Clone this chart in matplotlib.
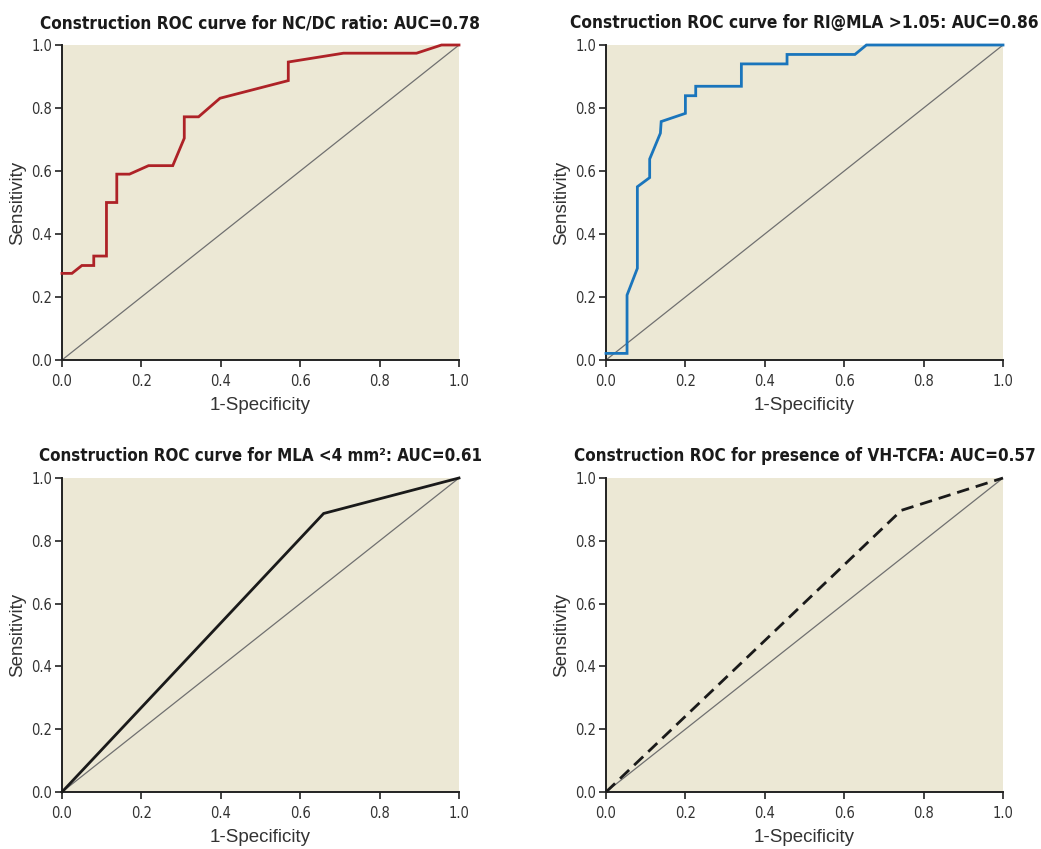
import numpy as np
import matplotlib
matplotlib.use("Agg")
import matplotlib.pyplot as plt
from matplotlib import font_manager as fm

# ---- datos ----
titulos = [
    "Construction ROC curve for NC/DC ratio: AUC=0.78",
    "Construction ROC curve for RI@MLA >1.05: AUC=0.86",
    "Construction ROC curve for MLA <4 mm²: AUC=0.61",
    "Construction ROC for presence of VH-TCFA: AUC=0.57",
]

fpr_ncdc = [0.0, 0.025, 0.050, 0.080, 0.080, 0.112, 0.112, 0.138, 0.138, 0.170,
            0.218, 0.279, 0.308, 0.308, 0.344, 0.398, 0.570, 0.570, 0.709, 0.893,
            0.956, 1.0]
tpr_ncdc = [0.275, 0.275, 0.300, 0.300, 0.330, 0.330, 0.500, 0.500, 0.590, 0.590,
            0.617, 0.617, 0.704, 0.772, 0.772, 0.831, 0.887, 0.946, 0.974, 0.974,
            1.0, 1.0]

fpr_ri = [0.0, 0.053, 0.053, 0.079, 0.079, 0.110, 0.110, 0.137, 0.139, 0.200,
          0.200, 0.226, 0.226, 0.341, 0.341, 0.456, 0.456, 0.627, 0.656, 1.0]
tpr_ri = [0.021, 0.021, 0.206, 0.291, 0.550, 0.579, 0.638, 0.720, 0.757, 0.783,
          0.839, 0.839, 0.869, 0.869, 0.940, 0.940, 0.970, 0.970, 1.0, 1.0]

fpr_mla = [0.0, 0.659, 1.0]
tpr_mla = [0.0, 0.887, 1.0]

fpr_tcfa = [0.0, 0.744, 1.0]
tpr_tcfa = [0.0, 0.897, 1.0]

ticks = [0.0, 0.2, 0.4, 0.6, 0.8, 1.0]

FONDO = "#ECE8D5"
ESTILOS = [
    dict(color="#AE2227", lw=2.0, ls="-"),
    dict(color="#1A75BC", lw=2.0, ls="-"),
    dict(color="#1A1A1A", lw=2.0, ls="-"),
    dict(color="#1A1A1A", lw=2.0, ls=(0, (4.5, 2.5))),
]
curvas = [(fpr_ncdc, tpr_ncdc), (fpr_ri, tpr_ri), (fpr_mla, tpr_mla), (fpr_tcfa, tpr_tcfa)]

# fuente estrecha: la primera que exista
nombres = {f.name for f in fm.fontManager.ttflist}
hay_condensada = any(f.name == "DejaVu Sans" and f.stretch == "condensed"
                     for f in fm.fontManager.ttflist)
if "Liberation Sans Narrow" in nombres:
    estrecha = dict(family="Liberation Sans Narrow")
elif hay_condensada:
    estrecha = dict(family="DejaVu Sans", stretch="condensed")
else:
    estrecha = dict(family="Roboto")
normal = dict(family="Liberation Sans")

fig = plt.figure(figsize=(10.41, 8.49), dpi=100)
W, H = 1041, 849
# (izq, arriba, der, abajo) en pixeles
cajas = [(62, 45, 459, 360), (606, 45, 1003, 360),
         (62, 478, 459, 792), (606, 478, 1003, 792)]
anchos_titulo = [441, 470, 446, 465]

textos_titulo = []
for caja, titulo, (x, y), est in zip(cajas, titulos, curvas, ESTILOS):
    l, t, r, b = caja
    ax = fig.add_axes([l / W, 1 - b / H, (r - l) / W, (b - t) / H])
    ax.set_facecolor(FONDO)
    ax.plot([0, 1], [0, 1], color="#707070", lw=0.9, zorder=2)
    ax.plot(x, y, color=est["color"], lw=est["lw"], ls=est["ls"],
            solid_joinstyle="miter", zorder=3, clip_on=False)
    ax.set_xlim(0, 1)
    ax.set_ylim(0, 1)
    ax.set_xticks(ticks)
    ax.set_yticks(ticks)
    ax.set_xticklabels([f"{v:.1f}" for v in ticks], fontsize=10.5, color="#333333", **estrecha)
    ax.set_yticklabels([f"{v:.1f}" for v in ticks], fontsize=10.5, color="#333333", **estrecha)
    for s in ("top", "right"):
        ax.spines[s].set_visible(False)
    for s in ("left", "bottom"):
        ax.spines[s].set_color("#222222")
        ax.spines[s].set_linewidth(1.4)
    ax.tick_params(direction="out", length=5, width=1.2, color="#222222")
    ax.tick_params(axis="x", pad=5)
    ax.tick_params(axis="y", pad=2)
    ax.set_xlabel("1-Specificity", fontsize=13.5, color="#333333", va="top", **normal)
    ax.set_ylabel("Sensitivity", fontsize=13.5, color="#333333", va="bottom", **normal)
    ax.xaxis.set_label_coords(0.5, -0.118)
    ax.yaxis.set_label_coords(-0.090, 0.5)
    tt = ax.set_title(titulo, fontweight="bold", fontsize=16, color="#1A1A1A",
                      pad=12.2, **estrecha)
    textos_titulo.append(tt)

# ajustar tamano de los titulos al ancho medido en la referencia
rend = fig.canvas.get_renderer()
for tt, ancho in zip(textos_titulo, anchos_titulo):
    w = tt.get_window_extent(rend).width
    tt.set_fontsize(min(17, tt.get_fontsize() * ancho / w))

fig.savefig("out.png", dpi=100)
